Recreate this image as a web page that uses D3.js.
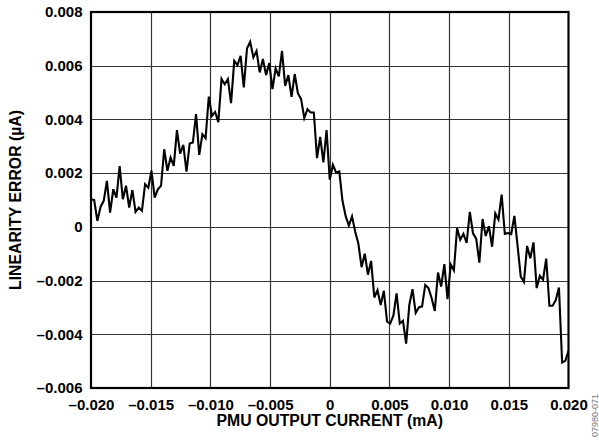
<!DOCTYPE html>
<html>
<head>
<meta charset="utf-8">
<script src="https://cdn.jsdelivr.net/npm/d3@7"></script>
<style>
  html, body { margin: 0; padding: 0; background: #fff; }
  svg { display: block; }
  text { font-family: "Liberation Sans", Arial, sans-serif; font-weight: bold; fill: #000; }
</style>
</head>
<body>
<svg id="chart" width="599" height="442"></svg>
<script>
// Sweep of the PMU output current (mA): 151 evenly spaced steps
const sweepStart = -0.020;
const sweepStop = 0.020;
const sweepCount = 151;

// Measured linearity error (µA) at each step of the sweep
const linearityError = [
  0.00103, 0.00100, 0.00022, 0.00074, 0.00097, 0.00171, 0.00053, 0.00140, 0.00109, 0.00226,
  0.00103, 0.00153, 0.00072, 0.00137, 0.00056, 0.00072, 0.00060, 0.00159, 0.00146, 0.00209,
  0.00109, 0.00140, 0.00153, 0.00289, 0.00209, 0.00258, 0.00227, 0.00360, 0.00273, 0.00305,
  0.00206, 0.00310, 0.00314, 0.00420, 0.00268, 0.00345, 0.00330, 0.00485, 0.00413, 0.00428,
  0.00390, 0.00551, 0.00531, 0.00550, 0.00461, 0.00618, 0.00602, 0.00637, 0.00519, 0.00664,
  0.00689, 0.00631, 0.00655, 0.00575, 0.00625, 0.00565, 0.00610, 0.00513, 0.00590, 0.00560,
  0.00655, 0.00525, 0.00565, 0.00484, 0.00569, 0.00497, 0.00476, 0.00405, 0.00438, 0.00426,
  0.00426, 0.00256, 0.00335, 0.00240, 0.00360, 0.00176, 0.00231, 0.00202, 0.00206, 0.00097,
  0.00040, 0.00005, 0.00039, -0.00018, -0.00063, -0.00150, -0.00100, -0.00178, -0.00127, -0.00263,
  -0.00236, -0.00291, -0.00238, -0.00353, -0.00360, -0.00330, -0.00248, -0.00360, -0.00350, -0.00435,
  -0.00290, -0.00232, -0.00320, -0.00300, -0.00296, -0.00216, -0.00228, -0.00265, -0.00313, -0.00170,
  -0.00222, -0.00139, -0.00269, -0.00140, -0.00162, -0.00005, -0.00048, -0.00026, -0.00060, 0.00056,
  -0.00024, -0.00044, -0.00133, 0.00029, -0.00034, 0.00003, -0.00074, 0.00050, 0.00027, 0.00120,
  -0.00026, -0.00023, -0.00027, 0.00041, -0.00070, -0.00185, -0.00205, -0.00071, -0.00117, -0.00058,
  -0.00228, -0.00182, -0.00197, -0.00118, -0.00294, -0.00294, -0.00273, -0.00226, -0.00505, -0.00499,
  -0.00462
];

// Axis ticks and their printed labels
const xTicks = [-0.020, -0.015, -0.010, -0.005, 0, 0.005, 0.010, 0.015, 0.020];
const xTickLabels = ["\u20130.020", "\u20130.015", "\u20130.010", "\u20130.005", "0", "0.005", "0.010", "0.015", "0.020"];
const yTicks = [0.008, 0.006, 0.004, 0.002, 0, -0.002, -0.004, -0.006];
const yTickLabels = ["0.008", "0.006", "0.004", "0.002", "0", "\u20130.002", "\u20130.004", "\u20130.006"];

const xTitle = "PMU OUTPUT CURRENT (mA)";
const yTitle = "LINEARITY ERROR (\u00b5A)";
const figureId = "07980-071";

const svg = d3.select("#chart");
const margin = { left: 91, right: 30.5, top: 12, bottom: 54 };
const W = 599, H = 442;
const x0 = margin.left, x1 = W - margin.right;
const y0 = margin.top, y1 = H - margin.bottom;

const x = d3.scaleLinear().domain([-0.020, 0.020]).range([x0, x1]);
const y = d3.scaleLinear().domain([-0.006, 0.008]).range([y1, y0]);

const current = d3.range(sweepCount).map(i => sweepStart + (sweepStop - sweepStart) * i / (sweepCount - 1));
const points = current.map((c, i) => [c, linearityError[i]]);

// Grid lines
const grid = svg.append("g").attr("stroke", "#333").attr("stroke-width", 1.2);
grid.selectAll("line.v").data(xTicks.slice(1, -1)).join("line")
  .attr("class", "v")
  .attr("x1", d => Math.round(x(d)) + 0.5).attr("x2", d => Math.round(x(d)) + 0.5)
  .attr("y1", y0).attr("y2", y1);
grid.selectAll("line.h").data(yTicks.slice(1, -1)).join("line")
  .attr("class", "h")
  .attr("y1", d => Math.round(y(d)) + 0.5).attr("y2", d => Math.round(y(d)) + 0.5)
  .attr("x1", x0).attr("x2", x1);

// Data trace
svg.append("path")
  .datum(points)
  .attr("fill", "none")
  .attr("stroke", "#000")
  .attr("stroke-width", 2.1)
  .attr("stroke-linejoin", "miter")
  .attr("d", d3.line().x(d => x(d[0])).y(d => y(d[1])));

// Plot frame
svg.append("rect")
  .attr("x", x0).attr("y", y0)
  .attr("width", x1 - x0).attr("height", y1 - y0)
  .attr("fill", "none").attr("stroke", "#000").attr("stroke-width", 2.2);

// Axes (labels only; the frame and grid carry the lines)
const xAxis = d3.axisBottom(x).tickValues(xTicks)
  .tickFormat((d, i) => xTickLabels[i]).tickSize(0).tickPadding(11);
const gx = svg.append("g").attr("transform", `translate(0,${y1})`).call(xAxis);
const yAxis = d3.axisLeft(y).tickValues(yTicks)
  .tickFormat((d, i) => yTickLabels[i]).tickSize(0).tickPadding(8.5);
const gy = svg.append("g").attr("transform", `translate(${x0},0)`).call(yAxis);
[gx, gy].forEach(g => {
  g.select(".domain").remove();
  g.selectAll("text")
    .attr("font-family", "'Liberation Sans', Arial, sans-serif")
    .attr("font-weight", "bold")
    .attr("font-size", 15)
    .attr("fill", "#000");
});

// Axis titles
svg.append("text")
  .attr("x", (x0 + x1) / 2).attr("y", 425.5)
  .attr("text-anchor", "middle").attr("font-size", 15.8)
  .text(xTitle);
svg.append("text")
  .attr("transform", `translate(20.5,${(y0 + y1) / 2}) rotate(-90)`)
  .attr("text-anchor", "middle").attr("font-size", 15.8)
  .text(yTitle);

// Figure number
svg.append("text")
  .attr("transform", "translate(597.5,437) rotate(-90)")
  .attr("text-anchor", "start").attr("font-size", 9)
  .style("font-weight", "normal").style("fill", "#777")
  .text(figureId);
</script>
</body>
</html>
